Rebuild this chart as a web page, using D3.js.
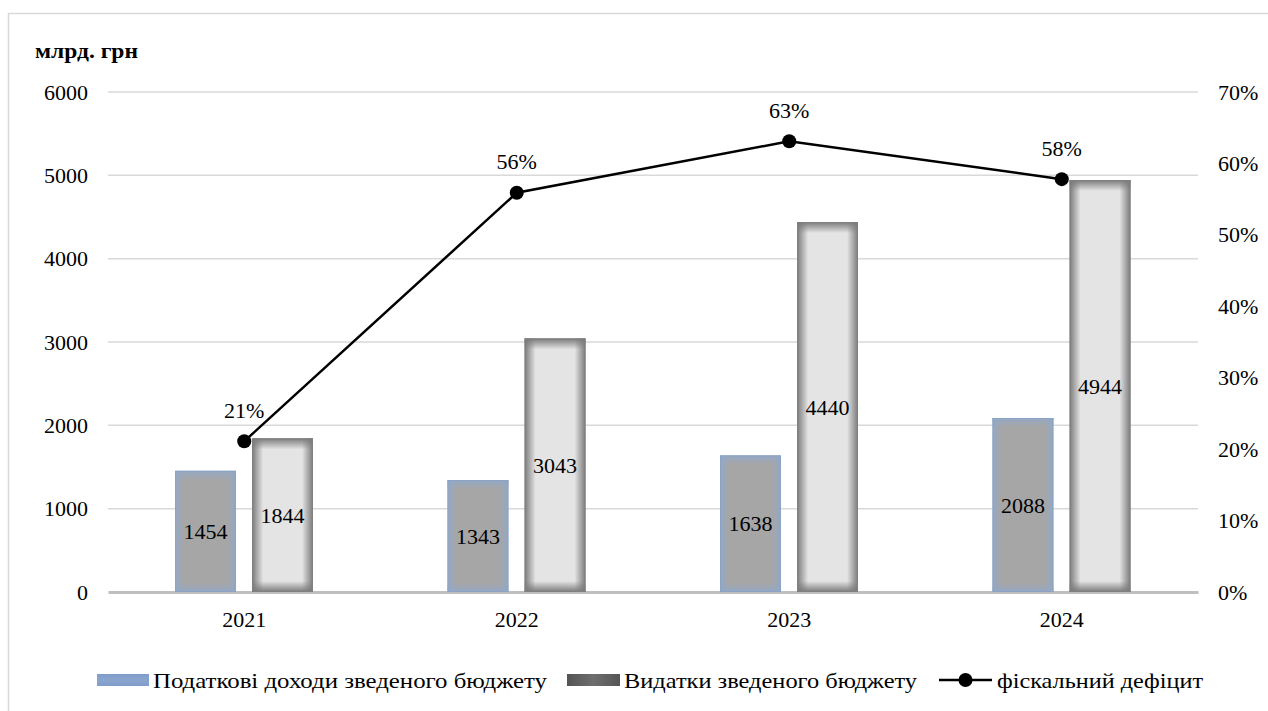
<!DOCTYPE html>
<html><head><meta charset="utf-8">
<script src="https://cdn.jsdelivr.net/npm/d3@7"></script>
<style>
html,body{margin:0;padding:0;background:#fff;}
svg text{font-family:"Liberation Serif","Times New Roman","Noto Serif","DejaVu Serif",serif !important;}
</style></head>
<body>
<svg id="chart" width="1268" height="711"></svg>
<script>
const years = ["2021","2022","2023","2024"];
const revenues = [1454, 1343, 1638, 2088];
const expenditures = [1844, 3043, 4440, 4944];
const deficit = [0.211, 0.559, 0.631, 0.578];
const deficitLabels = ["21%","56%","63%","58%"];
const leftTicks = [0,1000,2000,3000,4000,5000,6000];
const rightTicks = [0,0.1,0.2,0.3,0.4,0.5,0.6,0.7];
const seriesNames = ["Податкові доходи зведеного бюджету","Видатки зведеного бюджету","фіскальний дефіцит"];
const unitLabel = "млрд. грн";

const svg = d3.select("#chart");
const defs = svg.append("defs");
const L = 108, R = 1198, T = 92, B = 592;
const FS = 22;

const x = d3.scaleBand().domain(years).range([L, R]);
const xs = d3.scaleBand().domain(["rev","exp"]).range([67, 205]).paddingInner(0.21);
const y = d3.scaleLinear().domain([0, 6000]).range([B, T]);
const y2 = d3.scaleLinear().domain([0, 0.7]).range([B, T]);

// frame
svg.append("rect").attr("x",8.5).attr("y",13.5).attr("width",1300).attr("height",760)
  .attr("fill","none").attr("stroke","#d9d9d9").attr("stroke-width",1.5);

// gridlines
svg.append("g").selectAll("line").data(leftTicks.filter(d=>d>0)).join("line")
  .attr("x1",L).attr("x2",R).attr("y1",d=>y(d)).attr("y2",d=>y(d))
  .attr("stroke","#d9d9d9").attr("stroke-width",1.5);

// left axis
const la = svg.append("g").attr("transform",`translate(${L},0)`)
  .call(d3.axisLeft(y).tickValues(leftTicks).tickSize(0).tickPadding(20).tickFormat(d3.format("d")));
la.select(".domain").remove();
la.selectAll("text").attr("font-size",FS).attr("fill","#000");

// right axis
const ra = svg.append("g").attr("transform",`translate(${R},0)`)
  .call(d3.axisRight(y2).tickValues(rightTicks).tickSize(0).tickPadding(20).tickFormat(d3.format(".0%")));
ra.select(".domain").remove();
ra.selectAll("text").attr("font-size",FS).attr("fill","#000");

// x axis
const xa = svg.append("g").attr("transform",`translate(0,${B})`)
  .call(d3.axisBottom(x).tickSize(0).tickPadding(19));
xa.select(".domain").attr("stroke","#bfbfbf").attr("stroke-width",3);
xa.selectAll("text").attr("font-size",FS).attr("fill","#000");

function hGrad(id, edge, mid, frac){
  const g = defs.append("linearGradient").attr("id",id).attr("x1","0").attr("x2","1").attr("y1","0").attr("y2","0");
  g.append("stop").attr("offset",0).attr("stop-color",edge);
  g.append("stop").attr("offset",frac).attr("stop-color",mid);
  g.append("stop").attr("offset",1-frac).attr("stop-color",mid);
  g.append("stop").attr("offset",1).attr("stop-color",edge);
}
function vGrad(id, edge, h, edgePx){
  const f = Math.min(0.45, edgePx / h);
  const g = defs.append("linearGradient").attr("id",id).attr("x1","0").attr("x2","0").attr("y1","0").attr("y2","1");
  g.append("stop").attr("offset",0).attr("stop-color",edge).attr("stop-opacity",1);
  g.append("stop").attr("offset",f).attr("stop-color",edge).attr("stop-opacity",0);
  g.append("stop").attr("offset",1-f).attr("stop-color",edge).attr("stop-opacity",0);
  g.append("stop").attr("offset",1).attr("stop-color",edge).attr("stop-opacity",1);
}
hGrad("revH","#94a8c4","#a6a6a6",0.15);
hGrad("expH","#7a7a7a","#e4e4e4",0.18);

const bars = svg.append("g");
years.forEach((yr,i)=>{
  const rx = x(yr)+xs("rev"), rw = xs.bandwidth();
  const ry = y(revenues[i]), rh = B - ry;
  vGrad("revV"+i,"#94a8c4",rh,9);
  bars.append("rect").attr("x",rx).attr("y",ry).attr("width",rw).attr("height",rh).attr("fill","url(#revH)");
  bars.append("rect").attr("x",rx).attr("y",ry).attr("width",rw).attr("height",rh).attr("fill",`url(#revV${i})`);
  bars.append("rect").attr("x",rx+0.5).attr("y",ry+0.5).attr("width",rw-1).attr("height",rh-1)
    .attr("fill","none").attr("stroke","#8aa3c6").attr("stroke-width",1);
  const ex = x(yr)+xs("exp"), ew = xs.bandwidth();
  const ey = y(expenditures[i]), eh = B - ey;
  vGrad("expV"+i,"#7a7a7a",eh,11);
  bars.append("rect").attr("x",ex).attr("y",ey).attr("width",ew).attr("height",eh).attr("fill","url(#expH)");
  bars.append("rect").attr("x",ex).attr("y",ey).attr("width",ew).attr("height",eh).attr("fill",`url(#expV${i})`);
  bars.append("rect").attr("x",ex+0.5).attr("y",ey+0.5).attr("width",ew-1).attr("height",eh-1)
    .attr("fill","none").attr("stroke","#808080").attr("stroke-width",1);
  bars.append("text").attr("x",rx+rw/2).attr("y",(ry+B)/2).attr("dy","0.35em").attr("text-anchor","middle")
    .attr("font-size",FS).text(revenues[i]);
  bars.append("text").attr("x",ex+ew/2).attr("y",(ey+B)/2).attr("dy","0.35em").attr("text-anchor","middle")
    .attr("font-size",FS).text(expenditures[i]);
});

// line
const line = d3.line().x((d,i)=>x(years[i])+x.bandwidth()/2).y(d=>y2(d));
svg.append("path").datum(deficit).attr("d",line).attr("fill","none").attr("stroke","#000").attr("stroke-width",2.5);
svg.append("g").selectAll("circle").data(deficit).join("circle")
  .attr("cx",(d,i)=>x(years[i])+x.bandwidth()/2).attr("cy",d=>y2(d)).attr("r",7).attr("fill","#000");
svg.append("g").selectAll("text").data(deficit).join("text")
  .attr("x",(d,i)=>x(years[i])+x.bandwidth()/2).attr("y",d=>y2(d)-31).attr("dy","0.35em")
  .attr("text-anchor","middle").attr("font-size",FS).text((d,i)=>deficitLabels[i]);

// unit label
svg.append("text").attr("x",35).attr("y",58).attr("font-size",20).attr("font-weight","bold")
  .attr("textLength",103).attr("lengthAdjust","spacingAndGlyphs").text(unitLabel);

// legend
const lg = svg.append("g");
const lgH1 = defs.append("linearGradient").attr("id","lg1").attr("x1","0").attr("x2","0").attr("y1","0").attr("y2","1");
lgH1.append("stop").attr("offset",0).attr("stop-color","#7f9ccc");
lgH1.append("stop").attr("offset",0.5).attr("stop-color","#8aa5cc");
lgH1.append("stop").attr("offset",1).attr("stop-color","#7f9ccc");
const lgH2 = defs.append("linearGradient").attr("id","lg2").attr("x1","0").attr("x2","1").attr("y1","0").attr("y2","0");
lgH2.append("stop").attr("offset",0).attr("stop-color","#555");
lgH2.append("stop").attr("offset",0.5).attr("stop-color","#6e6e6e");
lgH2.append("stop").attr("offset",1).attr("stop-color","#555");
lg.append("rect").attr("x",97).attr("y",674).attr("width",52).attr("height",12).attr("fill","url(#lg1)");
lg.append("text").attr("x",153).attr("y",680).attr("dy","0.35em").attr("font-size",FS)
  .attr("textLength",394).attr("lengthAdjust","spacingAndGlyphs").text(seriesNames[0]);
lg.append("rect").attr("x",567).attr("y",674).attr("width",53).attr("height",12).attr("fill","url(#lg2)");
lg.append("text").attr("x",624).attr("y",680).attr("dy","0.35em").attr("font-size",FS)
  .attr("textLength",293).attr("lengthAdjust","spacingAndGlyphs").text(seriesNames[1]);
lg.append("line").attr("x1",939).attr("x2",992).attr("y1",680).attr("y2",680).attr("stroke","#000").attr("stroke-width",2.5);
lg.append("circle").attr("cx",965.5).attr("cy",680).attr("r",7).attr("fill","#000");
lg.append("text").attr("x",997).attr("y",680).attr("dy","0.35em").attr("font-size",FS)
  .attr("textLength",206).attr("lengthAdjust","spacingAndGlyphs").text(seriesNames[2]);
</script>
</body></html>
